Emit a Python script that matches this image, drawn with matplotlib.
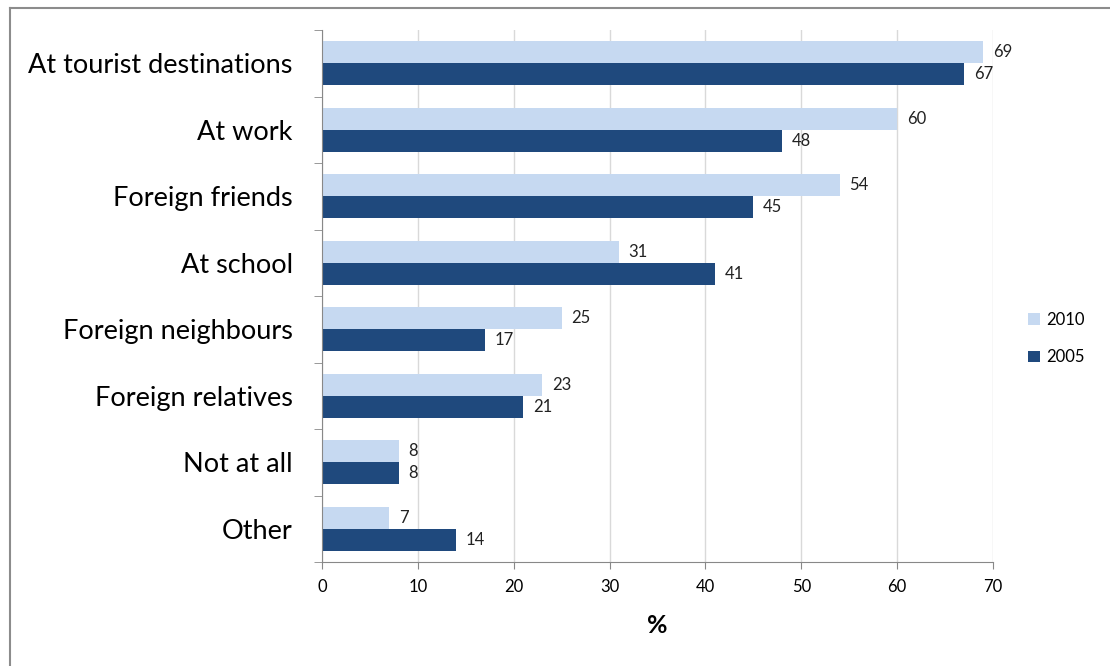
import numpy as np
import matplotlib.pyplot as plt
from matplotlib.lines import Line2D

plt.rcParams['font.family'] = ['Lato', 'DejaVu Sans']

categories = ['At tourist destinations', 'At work', 'Foreign friends', 'At school',
              'Foreign neighbours', 'Foreign relatives', 'Not at all', 'Other']
values_2010 = [69, 60, 54, 31, 25, 23, 8, 7]
values_2005 = [67, 48, 45, 41, 17, 21, 8, 14]

light = '#C6D9F1'
dark = '#1F497D'

fig = plt.figure(figsize=(11.1, 6.66), dpi=100)
ax = fig.add_axes([322 / 1110, 1 - 562 / 666, (993 - 322) / 1110, (562 - 30) / 666])

y = np.arange(len(categories))
h = 0.33
b1 = ax.barh(y - h / 2, values_2010, height=h, color=light, label='2010')
b2 = ax.barh(y + h / 2, values_2005, height=h, color=dark, label='2005')

for bars, vals in ((b1, values_2010), (b2, values_2005)):
    for bar, v in zip(bars, vals):
        ax.text(v + 1.0, bar.get_y() + bar.get_height() / 2, str(v),
                va='center', ha='left', fontsize=12, color='#222222')

ax.set_ylim(len(categories) - 0.5, -0.5)
ax.set_xlim(0, 70)
ax.set_xticks(range(0, 71, 10))
ax.tick_params(axis='x', labelsize=12, length=5, color='#888888', pad=7)

# category labels at group centres, tick marks between groups
ax.set_yticks(y)
ax.set_yticklabels(categories, fontsize=19.5)
ax.tick_params(axis='y', length=0, pad=21)
ax.set_yticks(np.arange(-0.5, len(categories)), minor=True)
ax.tick_params(axis='y', which='minor', length=6, color='#888888')

ax.grid(axis='x', color='#D9D9D9', linewidth=1)
ax.set_axisbelow(True)
for side in ('top', 'right'):
    ax.spines[side].set_visible(False)
ax.spines['left'].set_color('#888888')
ax.spines['bottom'].set_color('#888888')

ax.set_xlabel('%', fontsize=18, fontweight='bold', labelpad=14)

ax.legend(loc='center left', bbox_to_anchor=(1.03, 0.42), frameon=False,
          fontsize=12, handlelength=0.7, handleheight=0.7, labelspacing=1.3,
          handletextpad=0.4)

# outer frame along the top and left edges
fig.add_artist(Line2D([10 / 1110, 10 / 1110], [0, 1 - 8 / 666],
                      transform=fig.transFigure, color='#8C8C8C', linewidth=1.5))
fig.add_artist(Line2D([10 / 1110, 1], [1 - 8 / 666, 1 - 8 / 666],
                      transform=fig.transFigure, color='#8C8C8C', linewidth=1.5))

fig.savefig('out.png', dpi=100, facecolor='white')
